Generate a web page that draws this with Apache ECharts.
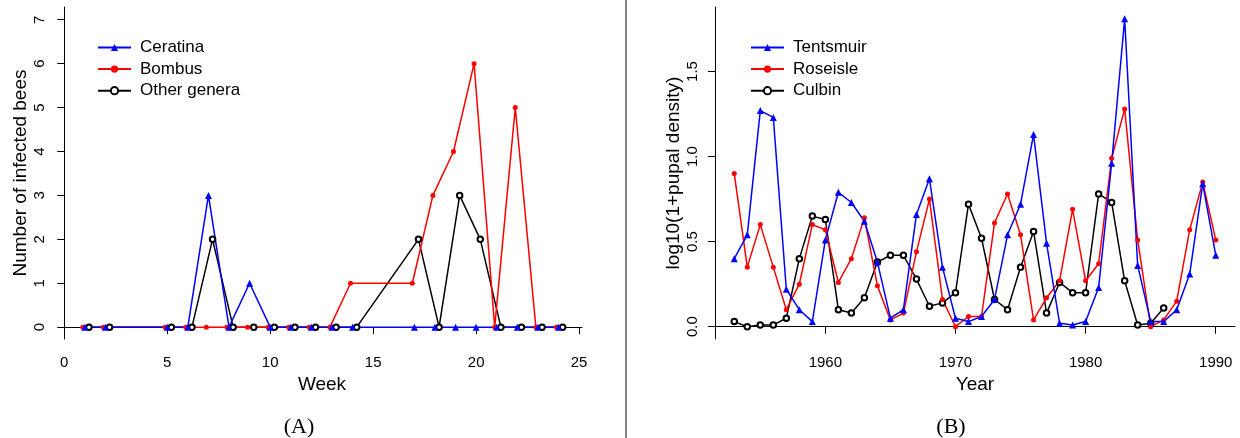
<!DOCTYPE html>
<html>
<head>
<meta charset="utf-8">
<script src="https://cdn.jsdelivr.net/npm/echarts@6/dist/echarts.min.js"></script>
<style>
  html, body { margin: 0; padding: 0; background: #fff; }
  #chart { width: 1240px; height: 438px; }
</style>
</head>
<body>
<div id="chart"></div>
<script>
// panel A: infected bees per week (points are shifted a little per genus, as in the original)
const weeks = [1, 2, 5, 6, 7, 8, 9, 10, 11, 12, 13, 14, 17, 18, 19, 20, 21, 22, 23, 24];
const ceratina = [0, 0, 0, 0, 3, 0, 1, 0, 0, 0, 0, 0, 0, 0, 0, 0, 0, 0, 0, 0];
const bombus = [0, 0, 0, 0, 0, 0, 0, 0, 0, 0, 0, 1, 1, 3, 4, 6, 0, 5, 0, 0];
const otherGenera = [0, 0, 0, 0, 2, 0, 0, 0, 0, 0, 0, 0, 2, 0, 3, 2, 0, 0, 0, 0];
const weekShift = { ceratina: 0, bombus: -0.1, other: 0.2 };
const weekTicks = [0, 5, 10, 15, 20, 25];
const countTicks = [0, 1, 2, 3, 4, 5, 6, 7];

// panel B: log10(1+pupal density) per year
const years = [1953, 1954, 1955, 1956, 1957, 1958, 1959, 1960, 1961, 1962, 1963, 1964, 1965,
  1966, 1967, 1968, 1969, 1970, 1971, 1972, 1973, 1974, 1975, 1976, 1977, 1978, 1979, 1980,
  1981, 1982, 1983, 1984, 1985, 1986, 1987, 1988, 1989, 1990];
const tentsmuir = [0.40, 0.54, 1.27, 1.23, 0.22, 0.10, 0.03, 0.51, 0.79, 0.73, 0.62, 0.38, 0.05,
  0.10, 0.66, 0.87, 0.35, 0.05, 0.03, 0.06, 0.16, 0.54, 0.72, 1.13, 0.49, 0.02, 0.01, 0.03,
  0.23, 0.96, 1.81, 0.36, 0.03, 0.03, 0.10, 0.31, 0.84, 0.42];
const roseisle = [0.90, 0.35, 0.60, 0.35, 0.10, 0.25, 0.60, 0.57, 0.26, 0.40, 0.64, 0.24, 0.04,
  0.08, 0.44, 0.75, 0.16, 0.00, 0.06, 0.06, 0.61, 0.78, 0.54, 0.04, 0.17, 0.27, 0.69, 0.27,
  0.37, 0.99, 1.28, 0.51, 0.00, 0.04, 0.15, 0.57, 0.85, 0.51];
const culbin = [0.03, 0.00, 0.01, 0.01, 0.05, 0.40, 0.65, 0.63, 0.10, 0.08, 0.17, 0.38, 0.42,
  0.42, 0.28, 0.12, 0.14, 0.20, 0.72, 0.52, 0.16, 0.10, 0.35, 0.56, 0.08, 0.26, 0.20, 0.20,
  0.78, 0.73, 0.27, 0.01, 0.02, 0.11];
const yearTicks = [1960, 1970, 1980, 1990];
const densityTicks = [0, 0.5, 1.0, 1.5];

const FONT = 'Liberation Sans, Arial, sans-serif';

const pair = (xs, ys, shift) => ys.map((v, i) => [xs[i] + (shift || 0), v]);

const xAxisFor = (gridIndex, min, max, ticks, name) => ({
	type: 'value',
	gridIndex,
	min,
	max,
	name,
	nameLocation: 'middle',
	nameGap: 29,
	nameTextStyle: { fontSize: 19, color: '#000', fontFamily: FONT },
	splitLine: { show: false },
	axisLine: { show: true, lineStyle: { color: '#000', width: 1 } },
	axisTick: { show: true, length: 7, customValues: ticks, lineStyle: { color: '#000' } },
	axisLabel: {
		customValues: ticks, fontSize: 15, color: '#000', fontFamily: FONT, margin: 16,
		formatter: v => String(v),
	},
});

const yAxisFor = (gridIndex, min, max, ticks, name, fmt) => ({
	type: 'value',
	gridIndex,
	min,
	max,
	name,
	nameLocation: 'middle',
	nameGap: 32,
	nameTextStyle: { fontSize: 19, color: '#000', fontFamily: FONT },
	splitLine: { show: false },
	axisLine: { show: true, lineStyle: { color: '#000', width: 1 } },
	axisTick: { show: true, length: 7, customValues: ticks, lineStyle: { color: '#000' } },
	axisLabel: {
		customValues: ticks, rotate: 90, fontSize: 15, color: '#000', fontFamily: FONT, margin: 15,
		formatter: fmt,
	},
});

// 线 + 点，和 R 的 type="o" 一样
const lineSeries = (name, idx, color, symbol, size, data) => ({
	name,
	type: 'line',
	xAxisIndex: idx,
	yAxisIndex: idx,
	data,
	symbol,
	symbolSize: size,
	showAllSymbol: true,
	color,
	lineStyle: { color, width: 1.5 },
	itemStyle: { color, borderColor: color, borderWidth: symbol === 'emptyCircle' ? 1.1 : 0 },
	emphasis: { disabled: true },
});

const legendFor = (left, names) => ({
	left,
	top: 34,
	orient: 'vertical',
	itemWidth: 33,
	itemHeight: 9,
	itemGap: 4.6,
	selectedMode: false,
	data: names,
	lineStyle: { width: 2 },
	textStyle: { fontSize: 17, color: '#000', fontFamily: FONT, padding: [0, 0, 0, 4] },
});

const option = {
	animation: false,
	backgroundColor: '#fff',
	grid: [
		{ left: 62, top: 7, width: 520, height: 332 },
		{ left: 715, top: 7, width: 520, height: 332 },
	],
	xAxis: [
		xAxisFor(0, -0.11, 25.14, weekTicks, 'Week'),
		xAxisFor(1, 1951.52, 1991.48, yearTicks, 'Year'),
	],
	yAxis: [
		yAxisFor(0, -0.27, 7.29, countTicks, 'Number of infected bees', v => String(v)),
		yAxisFor(1, -0.0723, 1.879, densityTicks, 'log10(1+pupal density)', v => v.toFixed(1)),
	],
	legend: [
		legendFor(92, ['Ceratina', 'Bombus', 'Other genera']),
		legendFor(745, ['Tentsmuir', 'Roseisle', 'Culbin']),
	],
	series: [
		lineSeries('Other genera', 0, '#000000', 'emptyCircle', 5.5, pair(weeks, otherGenera, weekShift.other)),
		lineSeries('Bombus', 0, '#ff0000', 'circle', 5, pair(weeks, bombus, weekShift.bombus)),
		lineSeries('Ceratina', 0, '#0000ff', 'triangle', 7, pair(weeks, ceratina, weekShift.ceratina)),
		lineSeries('Culbin', 1, '#000000', 'emptyCircle', 5.5, pair(years, culbin)),
		lineSeries('Roseisle', 1, '#ff0000', 'circle', 5, pair(years, roseisle)),
		lineSeries('Tentsmuir', 1, '#0000ff', 'triangle', 7, pair(years, tentsmuir)),
	],
	graphic: [
		{ type: 'line', shape: { x1: 626, y1: 0, x2: 626, y2: 438 }, style: { stroke: '#808080', lineWidth: 2 } },
		{ type: 'text', x: 299, y: 427, style: { text: '(A)', font: '22px "Liberation Serif", serif', fill: '#000', align: 'center', verticalAlign: 'middle' } },
		{ type: 'text', x: 951, y: 427, style: { text: '(B)', font: '22px "Liberation Serif", serif', fill: '#000', align: 'center', verticalAlign: 'middle' } },
	],
};

const myChart = echarts.init(document.getElementById('chart'), null, { renderer: 'canvas' });
myChart.setOption(option);
</script>
</body>
</html>
